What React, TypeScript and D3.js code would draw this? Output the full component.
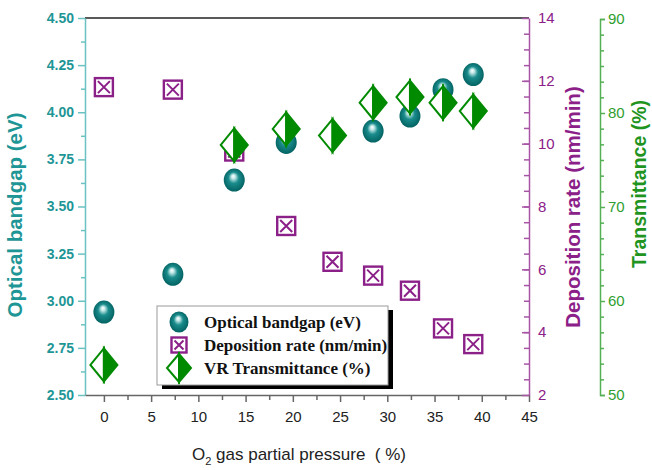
import React, { useEffect, useRef } from 'react';
import { select, scaleLinear, axisLeft, axisRight, axisBottom, range, format } from 'd3';

// O2 partial pressure (%) of each sample
const pressure = [0, 7.3, 13.8, 19.3, 24.2, 28.5, 32.4, 35.9, 39.1];
// optical bandgap (eV), no value for the 24.2 % sample
const bandgap = [2.94, 3.14, 3.64, 3.84, null, 3.9, 3.98, 4.12, 4.2];
// deposition rate (nm/min)
const deposition = [11.8, 11.72, 9.75, 7.38, 6.24, 5.8, 5.32, 4.12, 3.62];
// VR transmittance (%), no value for the 7.3 % sample
const transmittance = [53.2, null, 76.6, 78.3, 77.6, 81.1, 81.7, 81.1, 80.2];

const xTicks = [0, 5, 10, 15, 20, 25, 30, 35, 40, 45];
const bandgapTicks = [2.5, 2.75, 3.0, 3.25, 3.5, 3.75, 4.0, 4.25, 4.5];
const depositionTicks = [2, 4, 6, 8, 10, 12, 14];
const transTicks = [50, 60, 70, 80, 90];

const legendItems = ['Optical bandgap (eV)', 'Deposition rate (nm/min)', 'VR Transmittance (%)'];

const TEAL = '#1f9696';
const TEAL_LINE = '#6cc2c2';
const PURPLE = '#8b2088';
const PURPLE_LINE = '#a855a6';
const GREEN = '#2f9e2f';
const GREEN_LINE = '#55b055';
const DGREEN = '#008a00';
const SANS = '"Liberation Sans", Arial, sans-serif';
const SERIF = '"Liberation Serif", "Times New Roman", serif';

const drawBall = (g, cx, cy, rx, ry) => {
  g.append('ellipse')
    .attr('cx', cx)
    .attr('cy', cy)
    .attr('rx', rx)
    .attr('ry', ry)
    .attr('fill', 'url(#ball)');
};

const drawBox = (g, cx, cy, s) => {
  const h = s / 2;
  g.append('rect')
    .attr('x', cx - h)
    .attr('y', cy - h)
    .attr('width', s)
    .attr('height', s)
    .attr('fill', 'white')
    .attr('stroke', PURPLE)
    .attr('stroke-width', 2.4);
  const i = h - 3;
  g.append('path')
    .attr('d', `M${cx - i},${cy - i}L${cx + i},${cy + i}M${cx + i},${cy - i}L${cx - i},${cy + i}`)
    .attr('stroke', PURPLE)
    .attr('stroke-width', 2);
};

const drawDiamond = (g, cx, cy, w, h) => {
  const a = w / 2;
  const b = h / 2;
  g.append('path')
    .attr('d', `M${cx},${cy - b}L${cx - a},${cy}L${cx},${cy + b}Z`)
    .attr('fill', 'white')
    .attr('stroke', DGREEN)
    .attr('stroke-width', 2)
    .attr('stroke-linejoin', 'miter');
  g.append('path')
    .attr('d', `M${cx},${cy - b}L${cx + a},${cy}L${cx},${cy + b}Z`)
    .attr('fill', DGREEN)
    .attr('stroke', DGREEN)
    .attr('stroke-width', 2);
};

export default function App() {
  const svgRef = useRef(null);

  useEffect(() => {
    const svg = select(svgRef.current);
    svg.selectAll('.plot').remove();
    const root = svg.append('g').attr('class', 'plot');

    const x = scaleLinear().domain([-2, 45]).range([85, 529]);
    const yGap = scaleLinear().domain([2.5, 4.5]).range([395, 18]);
    const yDep = scaleLinear().domain([2, 14]).range([395, 18]);
    const yTr = scaleLinear().domain([50, 90]).range([395, 19]);

    // top frame line
    root.append('line')
      .attr('x1', 85).attr('x2', 529).attr('y1', 18).attr('y2', 18)
      .attr('stroke', '#222').attr('stroke-width', 1.5);

    // left axis, bandgap
    const left = root.append('g').attr('transform', 'translate(85,0)');
    left.call(axisLeft(yGap).tickValues(range(2.625, 4.5, 0.25)).tickSize(4).tickFormat(() => ''));
    left.call((g) => g.select('.domain').remove());
    const leftMaj = root.append('g').attr('transform', 'translate(85,0)');
    leftMaj.call(axisLeft(yGap).tickValues(bandgapTicks).tickSize(7).tickSizeOuter(0).tickPadding(4).tickFormat(format('.2f')));
    [left, leftMaj].forEach((g) => g.selectAll('line,path').attr('stroke', TEAL_LINE).attr('stroke-width', 1.5));
    leftMaj.selectAll('text')
      .attr('fill', TEAL)
      .style('font', `bold 14px ${SANS}`);

    // bottom axis
    const bottom = root.append('g').attr('transform', 'translate(0,395)');
    bottom.call(axisBottom(x).tickValues(range(2.5, 45, 5)).tickSize(5).tickFormat(() => ''));
    bottom.call((g) => g.select('.domain').remove());
    const bottomMaj = root.append('g').attr('transform', 'translate(0,395)');
    bottomMaj.call(axisBottom(x).tickValues(xTicks).tickSize(7).tickSizeOuter(0).tickPadding(9));
    [bottom, bottomMaj].forEach((g) => g.selectAll('line,path').attr('stroke', '#666').attr('stroke-width', 1.5));
    bottomMaj.selectAll('text').attr('fill', '#222').style('font', `15px ${SANS}`);

    // right axis, deposition rate (ticks inward)
    const dep = root.append('g').attr('transform', 'translate(529,0)');
    dep.call(axisRight(yDep).tickValues(range(3, 14, 1).concat(range(2.5, 14, 1))).tickSize(-5).tickFormat(() => ''));
    dep.call((g) => g.select('.domain').remove());
    const depMaj = root.append('g').attr('transform', 'translate(529,0)');
    depMaj.call(axisRight(yDep).tickValues(depositionTicks).tickSizeInner(-7).tickSizeOuter(0).tickPadding(9));
    [dep, depMaj].forEach((g) => g.selectAll('line,path').attr('stroke', PURPLE_LINE).attr('stroke-width', 1.5));
    depMaj.selectAll('text').attr('fill', PURPLE).style('font', `15px ${SANS}`);

    // far right axis, transmittance
    const tr = root.append('g').attr('transform', 'translate(600,0)');
    tr.call(axisRight(yTr).tickValues(range(0, 24).filter((i) => i % 6 !== 0).map((i) => 50 + (i * 10) / 6)).tickSize(4).tickFormat(() => ''));
    tr.call((g) => g.select('.domain').remove());
    const trMaj = root.append('g').attr('transform', 'translate(600,0)');
    trMaj.call(axisRight(yTr).tickValues(transTicks).tickSize(5).tickSizeOuter(5).tickPadding(3));
    [tr, trMaj].forEach((g) => g.selectAll('line,path').attr('stroke', GREEN_LINE).attr('stroke-width', 1.5));
    trMaj.selectAll('text').attr('fill', GREEN).style('font', `15px ${SANS}`);

    // axis titles
    root.append('text')
      .attr('transform', 'translate(22,215) rotate(-90)')
      .attr('text-anchor', 'middle')
      .attr('fill', TEAL)
      .style('font', `bold 20.5px ${SANS}`)
      .text('Optical bandgap (eV)');
    root.append('text')
      .attr('transform', 'translate(580,207) rotate(-90)')
      .attr('text-anchor', 'middle')
      .attr('fill', PURPLE)
      .style('font', `bold 20.5px ${SANS}`)
      .text('Deposition rate (nm/min)');
    root.append('text')
      .attr('transform', 'translate(646,184) rotate(-90)')
      .attr('text-anchor', 'middle')
      .attr('fill', '#1f941f')
      .style('font', `bold 19.5px ${SANS}`)
      .text('Transmittance (%)');
    const xt = root.append('text')
      .attr('x', 299)
      .attr('y', 460)
      .attr('text-anchor', 'middle')
      .attr('fill', '#222')
      .style('font', `17px ${SANS}`)
      .style('white-space', 'pre');
    xt.append('tspan').text('O');
    xt.append('tspan').attr('font-size', 11).attr('dy', 5).text('2');
    xt.append('tspan').attr('dy', -5).text(' gas partial pressure  ( %)');

    // markers: squares, then balls, then diamonds on top
    const marks = root.append('g');
    pressure.forEach((p, i) => drawBox(marks, x(p), yDep(deposition[i]), 18));
    pressure.forEach((p, i) => {
      if (bandgap[i] != null) drawBall(marks, x(p), yGap(bandgap[i]), 10.5, 11.5);
    });
    pressure.forEach((p, i) => {
      if (transmittance[i] != null) drawDiamond(marks, x(p), yTr(transmittance[i]), 27, 33);
    });

    // legend
    const lg = root.append('g');
    lg.append('rect').attr('x', 162).attr('y', 310).attr('width', 231).attr('height', 79).attr('fill', '#000');
    lg.append('rect')
      .attr('x', 157).attr('y', 306).attr('width', 231).attr('height', 79)
      .attr('fill', 'white').attr('stroke', '#999').attr('stroke-width', 1);
    const rowY = [322, 345, 368];
    drawBall(lg, 179, rowY[0], 9.5, 10.5);
    drawBox(lg, 179, rowY[1], 15);
    drawDiamond(lg, 179, rowY[2], 24, 28);
    legendItems.forEach((t, i) => {
      lg.append('text')
        .attr('x', 204)
        .attr('y', rowY[i] + 6)
        .attr('fill', '#111')
        .style('font', `bold 17px ${SERIF}`)
        .text(t);
    });
  }, []);

  return (
    <svg
      ref={svgRef}
      width={652}
      height={470}
      style={{ position: 'absolute', left: 0, top: 0, background: 'white' }}
    >
      <defs>
        <radialGradient id="ball" cx="50%" cy="50%" r="55%" fx="45%" fy="32%">
          <stop offset="0%" stopColor="#ffffff" />
          <stop offset="16%" stopColor="#c8eaea" />
          <stop offset="45%" stopColor="#1a8c8c" />
          <stop offset="100%" stopColor="#005c5c" />
        </radialGradient>
      </defs>
    </svg>
  );
}
